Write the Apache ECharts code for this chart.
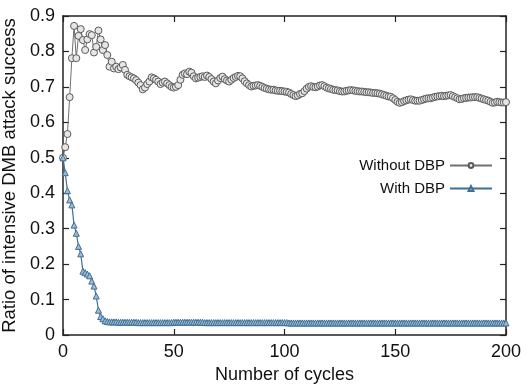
<!DOCTYPE html>
<html>
<head>
<meta charset="utf-8">
<script src="https://cdn.jsdelivr.net/npm/echarts@6/dist/echarts.min.js"></script>
<style>
  html, body { margin: 0; padding: 0; background: #fff; }
  #chart { width: 531px; height: 385px; }
</style>
</head>
<body>
<div id="chart"></div>
<script>
// cycles 0..200, one point per cycle
const cycles = Array.from({ length: 201 }, (_, i) => i)

const withoutDBP = [
  0.500, 0.530, 0.567, 0.671, 0.781, 0.872, 0.781, 0.844, 0.863, 0.832,
  0.804, 0.834, 0.849, 0.846, 0.797, 0.813, 0.859, 0.834, 0.804, 0.818,
  0.790, 0.757, 0.771, 0.752, 0.757, 0.750, 0.755, 0.762, 0.748, 0.734,
  0.730, 0.727, 0.724, 0.719, 0.712, 0.705, 0.693, 0.698, 0.708, 0.715,
  0.727, 0.724, 0.720, 0.715, 0.708, 0.712, 0.715, 0.710, 0.705, 0.700,
  0.698, 0.700, 0.705, 0.720, 0.734, 0.738, 0.736, 0.743, 0.740, 0.730,
  0.724, 0.726, 0.728, 0.730, 0.728, 0.732, 0.728, 0.722, 0.715, 0.710,
  0.718, 0.725, 0.729, 0.722, 0.718, 0.715, 0.720, 0.725, 0.728, 0.731,
  0.730, 0.724, 0.716, 0.710, 0.705, 0.701, 0.703, 0.704, 0.705, 0.703,
  0.700, 0.697, 0.695, 0.693, 0.692, 0.692, 0.690, 0.689, 0.689, 0.688,
  0.687, 0.686, 0.684, 0.680, 0.677, 0.674, 0.676, 0.680, 0.682, 0.688,
  0.695, 0.700, 0.702, 0.700, 0.699, 0.701, 0.704, 0.705, 0.702, 0.698,
  0.696, 0.694, 0.692, 0.691, 0.690, 0.688, 0.687, 0.687, 0.689, 0.690,
  0.691, 0.690, 0.689, 0.688, 0.687, 0.687, 0.686, 0.685, 0.685, 0.684,
  0.683, 0.683, 0.682, 0.681, 0.679, 0.677, 0.675, 0.673, 0.672, 0.668,
  0.663, 0.658, 0.655, 0.657, 0.660, 0.662, 0.664, 0.665, 0.663, 0.661,
  0.661, 0.661, 0.663, 0.665, 0.667, 0.668, 0.668, 0.670, 0.672, 0.673,
  0.674, 0.675, 0.674, 0.675, 0.676, 0.677, 0.674, 0.671, 0.668, 0.665,
  0.666, 0.668, 0.669, 0.670, 0.670, 0.671, 0.671, 0.671, 0.669, 0.667,
  0.665, 0.663, 0.661, 0.658, 0.655, 0.656, 0.658, 0.657, 0.656, 0.656,
  0.657
]

const withDBP = [
  0.500, 0.458, 0.407, 0.381, 0.367, 0.310, 0.287, 0.250, 0.229, 0.180,
  0.176, 0.172, 0.167, 0.152, 0.138, 0.110, 0.070, 0.052, 0.046, 0.040,
  0.038, 0.037, 0.037, 0.037, 0.037, 0.036, 0.036, 0.036, 0.036, 0.036,
  0.036, 0.036, 0.036, 0.036, 0.035, 0.035, 0.035, 0.035, 0.035, 0.035,
  0.035, 0.035, 0.035, 0.035, 0.035, 0.035, 0.035, 0.035, 0.035, 0.035,
  0.036, 0.036, 0.036, 0.036, 0.036, 0.036, 0.036, 0.036, 0.036, 0.036,
  0.036, 0.036, 0.036, 0.036, 0.035, 0.035, 0.035, 0.035, 0.035, 0.035,
  0.035, 0.035, 0.035, 0.035, 0.035, 0.035, 0.035, 0.035, 0.035, 0.035,
  0.035, 0.035, 0.035, 0.035, 0.035, 0.035, 0.035, 0.035, 0.035, 0.035,
  0.035, 0.035, 0.035, 0.035, 0.035, 0.035, 0.035, 0.035, 0.035, 0.035,
  0.035, 0.035, 0.034, 0.034, 0.034, 0.034, 0.034, 0.034, 0.034, 0.034,
  0.034, 0.034, 0.034, 0.034, 0.034, 0.034, 0.034, 0.034, 0.034, 0.034,
  0.034, 0.034, 0.034, 0.034, 0.034, 0.034, 0.034, 0.034, 0.034, 0.034,
  0.034, 0.034, 0.034, 0.034, 0.034, 0.034, 0.034, 0.034, 0.034, 0.034,
  0.034, 0.034, 0.034, 0.034, 0.034, 0.034, 0.034, 0.034, 0.034, 0.034,
  0.034, 0.034, 0.034, 0.034, 0.034, 0.034, 0.034, 0.034, 0.034, 0.034,
  0.034, 0.034, 0.034, 0.034, 0.034, 0.034, 0.034, 0.034, 0.034, 0.034,
  0.034, 0.034, 0.034, 0.034, 0.034, 0.034, 0.034, 0.034, 0.034, 0.034,
  0.034, 0.034, 0.034, 0.034, 0.034, 0.034, 0.034, 0.034, 0.034, 0.034,
  0.034, 0.034, 0.034, 0.034, 0.034, 0.034, 0.034, 0.034, 0.034, 0.034,
  0.034
]

const xTicks = [0, 50, 100, 150, 200]
const yTicks = [0, 0.1, 0.2, 0.3, 0.4, 0.5, 0.6, 0.7, 0.8, 0.9]

const font = 'Liberation Sans, Arial, sans-serif'
const axisColor = '#222'

const myChart = echarts.init(document.getElementById('chart'))

const frameAxis = {
  axisLine: { show: true, onZero: false, lineStyle: { color: axisColor, width: 1.5 } },
  axisTick: { show: true, inside: true, length: 6, lineStyle: { color: axisColor, width: 1.2 } },
  splitLine: { show: false }
}

const legendBase = {
  itemWidth: 42, itemHeight: 6, itemGap: 6,
  align: 'right',
  textStyle: { fontFamily: font, fontSize: 15, color: '#111' }
}

const option = {
  animation: false,
  backgroundColor: '#fff',
  grid: { left: 63, right: 25, top: 16, bottom: 50, outerBoundsMode: 'none', containLabel: false },
  legend: [
    { ...legendBase, data: ['Without DBP'], right: 33, top: 153 },
    { ...legendBase, data: ['With DBP'], right: 33, top: 176 }
  ],
  xAxis: [
    {
      type: 'value', min: 0, max: 200, interval: 50,
      name: 'Number of cycles', nameLocation: 'middle', nameGap: 30,
      nameTextStyle: { fontFamily: font, fontSize: 18, color: '#111' },
      axisLabel: { margin: 8, fontFamily: font, fontSize: 18, color: '#111' },
      ...frameAxis
    },
    {
      type: 'value', min: 0, max: 200, interval: 50, position: 'top',
      axisLabel: { show: false },
      ...frameAxis
    }
  ],
  yAxis: [
    {
      type: 'value', min: 0, max: 0.9, interval: 0.1,
      name: 'Ratio of intensive DMB attack success', nameLocation: 'middle', nameGap: 40,
      nameTextStyle: { fontFamily: font, fontSize: 18.5, color: '#111' },
      axisLabel: {
        margin: 8, fontFamily: font, fontSize: 18, color: '#111',
        formatter: (v) => (v === 0 ? '0' : v.toFixed(1))
      },
      ...frameAxis
    },
    {
      type: 'value', min: 0, max: 0.9, interval: 0.1, position: 'right',
      axisLabel: { show: false },
      ...frameAxis
    }
  ],
  series: [
    {
      name: 'Without DBP',
      type: 'line',
      data: cycles.map((c, i) => [c, withoutDBP[i]]),
      symbol: 'circle',
      symbolSize: 7,
      showAllSymbol: true,
      lineStyle: { color: '#707070', width: 1 },
      itemStyle: { color: '#e6e6e6', borderColor: '#5a5a5a', borderWidth: 1 }
    },
    {
      name: 'With DBP',
      type: 'line',
      data: cycles.map((c, i) => [c, withDBP[i]]),
      symbol: 'triangle',
      symbolSize: 6,
      showAllSymbol: true,
      lineStyle: { color: '#3f6f96', width: 1.2 },
      itemStyle: { color: '#9dbbd3', borderColor: '#3f6f96', borderWidth: 1 }
    }
  ]
}

option && myChart.setOption(option)
</script>
</body>
</html>
